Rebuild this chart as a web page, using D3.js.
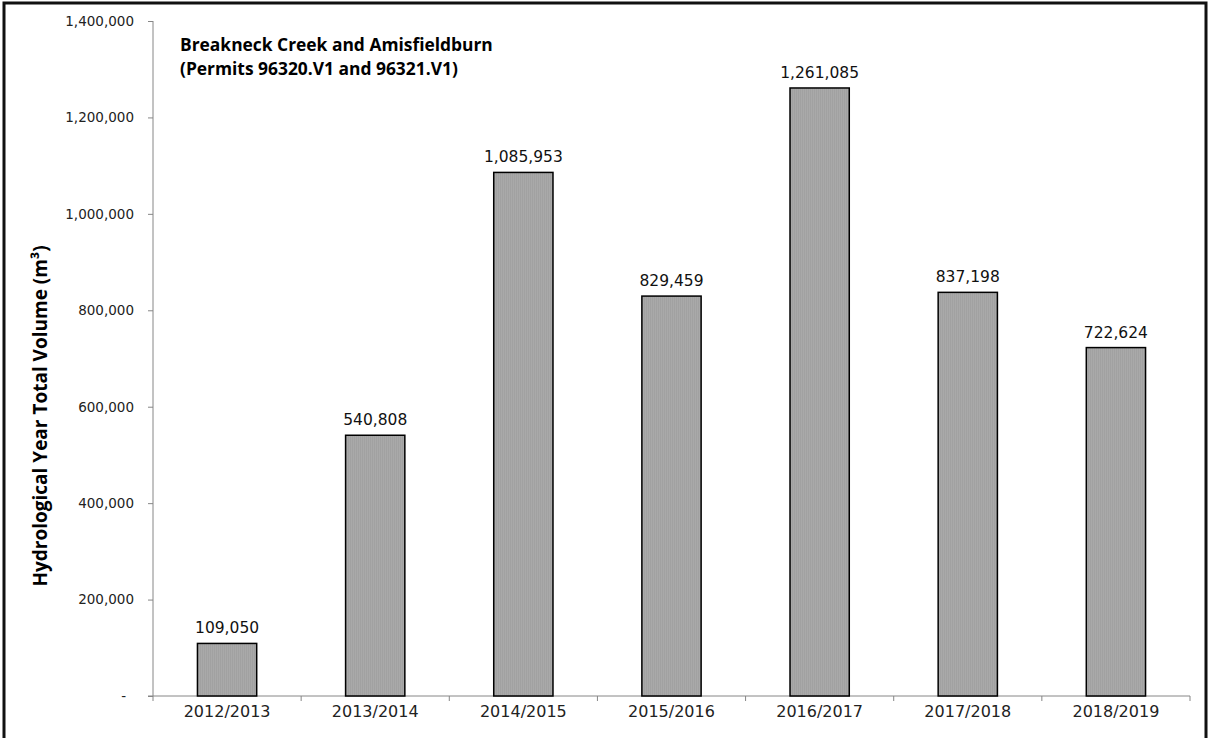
<!DOCTYPE html>
<html>
<head>
<meta charset="utf-8">
<script src="https://cdn.jsdelivr.net/npm/d3@7"></script>
<style>
  body { margin: 0; background: #fff; }
  svg { display: block; }
</style>
</head>
<body>
<div id="chart"></div>
<script>
// hydrological years and total volumes
var years = ["2012/2013", "2013/2014", "2014/2015", "2015/2016", "2016/2017", "2017/2018", "2018/2019"];
var volumes = [109050, 540808, 1085953, 829459, 1261085, 837198, 722624];
var yTicks = [0, 200000, 400000, 600000, 800000, 1000000, 1200000, 1400000];
var titleLines = ["Breakneck Creek and Amisfieldburn", "(Permits 96320.V1 and 96321.V1)"];

var width = 1209,
    height = 738;

var svg = d3.select("#chart")
  .append("svg")
    .attr("width", width)
    .attr("height", height);

svg.append("rect")
    .attr("width", width)
    .attr("height", height)
    .attr("fill", "#fff");

// fine vertical stripes like the excel fill
var defs = svg.append("defs");
var pat = defs.append("pattern")
    .attr("id", "stripes")
    .attr("patternUnits", "userSpaceOnUse")
    .attr("width", 2)
    .attr("height", 4);
pat.append("rect").attr("width", 2).attr("height", 4).attr("fill", "#a9a9a9");
pat.append("rect").attr("width", 1).attr("height", 4).attr("fill", "#a1a1a1");

var x = d3.scaleBand()
    .domain(years)
    .range([153, 1190])
    .paddingInner(0.6)
    .paddingOuter(0.3);

var y = d3.scaleLinear()
    .domain([0, 1400000])
    .range([696, 21]);

var fmt = d3.format(",");

// y axis
var yAxis = svg.append("g")
    .attr("transform", "translate(153,0)")
    .call(d3.axisLeft(y).tickValues(yTicks).tickSize(5).tickPadding(14)
      .tickFormat(function(d) { return d === 0 ? "-" : fmt(d); }));
yAxis.select(".domain").attr("stroke", "#868686").attr("d", "M0,21V696");
yAxis.selectAll(".tick line").attr("stroke", "#868686");
yAxis.selectAll(".tick text")
    .attr("font-family", "DejaVu Sans")
    .attr("font-size", "13.5px")
    .attr("fill", "#222")
    .attr("dx", function(d) { return d === 0 ? -8 : 0; });

// x axis: line with ticks at category boundaries
var step = x.step();
var bounds = d3.range(years.length + 1).map(function(i) { return 153 + i * step; });
svg.append("line")
    .attr("x1", 148).attr("x2", 1190)
    .attr("y1", y(0)).attr("y2", y(0))
    .attr("stroke", "#868686");
svg.selectAll(".xtick")
  .data(bounds)
  .enter().append("line")
    .attr("class", "xtick")
    .attr("x1", function(d) { return d; })
    .attr("x2", function(d) { return d; })
    .attr("y1", y(0))
    .attr("y2", y(0) + 5)
    .attr("stroke", "#868686");

svg.selectAll(".xlabel")
  .data(years)
  .enter().append("text")
    .attr("class", "xlabel")
    .attr("x", function(d) { return x(d) + x.bandwidth() / 2; })
    .attr("y", 717)
    .attr("text-anchor", "middle")
    .attr("font-family", "DejaVu Sans")
    .attr("font-size", "16px")
    .attr("fill", "#222")
    .text(function(d) { return d; });

// bars
svg.selectAll(".bar")
  .data(volumes)
  .enter().append("rect")
    .attr("class", "bar")
    .attr("x", function(d, i) { return x(years[i]); })
    .attr("y", function(d) { return y(d); })
    .attr("width", x.bandwidth())
    .attr("height", function(d) { return y(0) - y(d); })
    .attr("fill", "url(#stripes)")
    .attr("stroke", "#000")
    .attr("stroke-width", 1.5);

// value labels
svg.selectAll(".vlabel")
  .data(volumes)
  .enter().append("text")
    .attr("class", "vlabel")
    .attr("x", function(d, i) { return x(years[i]) + x.bandwidth() / 2; })
    .attr("y", function(d) { return y(d) - 10; })
    .attr("text-anchor", "middle")
    .attr("font-family", "DejaVu Sans")
    .attr("font-size", "15.5px")
    .attr("fill", "#111")
    .text(function(d) { return fmt(d); });

// title
svg.selectAll(".title")
  .data(titleLines)
  .enter().append("text")
    .attr("class", "title")
    .attr("x", 180)
    .attr("y", function(d, i) { return 51 + i * 24; })
    .attr("font-family", "Open Sans")
    .attr("font-weight", "bold")
    .attr("font-size", "17.4px")
    .attr("fill", "#000")
    .text(function(d) { return d; });

// y axis title
svg.append("text")
    .attr("transform", "translate(47,416) rotate(-90)")
    .attr("text-anchor", "middle")
    .attr("font-family", "Open Sans")
    .attr("font-weight", "bold")
    .attr("font-size", "19px")
    .attr("fill", "#000")
    .text("Hydrological Year Total Volume (m³)");

// outer frame
svg.append("rect")
    .attr("x", 4).attr("y", 3)
    .attr("width", 1202).attr("height", 740)
    .attr("fill", "none")
    .attr("stroke", "#111")
    .attr("stroke-width", 3);
</script>
</body>
</html>
